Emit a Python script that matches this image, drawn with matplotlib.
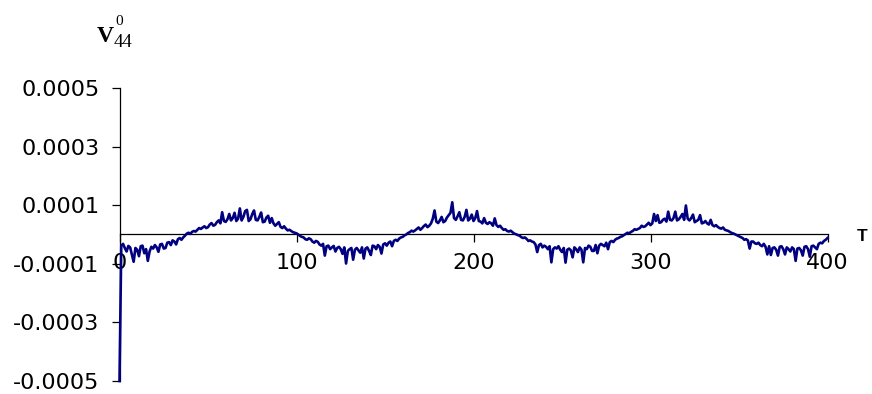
import matplotlib
matplotlib.use("Agg")
import matplotlib.pyplot as plt
import numpy as np

# time axis (step 1)
t_values = list(range(0, 401))
# V_44^0 values in units of 1e-5 (20 per row)
v_values_e5 = [
    -50.0, -3.8, -3.2, -4.6, -5.8, -3.9, -4.4, -6.8, -9.3, -4.6, -5.2, -7.4, -4.0, -3.8, -6.4, -5.0, -9.0, -5.8, -4.2, -4.8,
    -3.6, -4.4, -5.9, -3.4, -3.2, -4.8, -4.6, -2.8, -2.6, -3.6, -2.0, -2.4, -3.4, -1.6, -1.2, -1.8, -1.0, -0.4, 0.3, 0.6,
    0.2, 0.9, 1.2, 1.0, 1.6, 2.2, 1.9, 2.4, 2.8, 2.2, 2.5, 3.4, 3.9, 3.0, 3.3, 4.2, 4.8, 3.8, 7.6, 4.6,
    4.3, 5.2, 7.0, 4.8, 5.6, 7.4, 4.6, 5.4, 8.9, 4.8, 6.0, 8.0, 8.4, 4.6, 5.2, 7.0, 8.2, 5.0, 4.8, 6.0,
    7.5, 4.2, 4.4, 5.8, 6.4, 4.0, 5.6, 3.8, 3.0, 3.6, 4.2, 2.6, 2.2, 2.8, 2.0, 1.4, 1.6, 1.2, 0.8, 0.6,
    0.4, 0.0, -0.5, -0.8, -1.0, -1.6, -1.8, -1.3, -1.6, -2.4, -2.8, -2.2, -2.5, -3.4, -3.8, -3.2, -7.2, -4.0, -3.8, -5.0,
    -4.4, -3.9, -5.8, -4.6, -4.2, -5.0, -6.6, -4.4, -9.9, -5.6, -5.0, -4.6, -8.6, -5.2, -4.6, -5.4, -6.2, -4.4, -8.2, -4.8,
    -4.4, -5.6, -7.0, -3.8, -4.0, -5.0, -3.6, -4.2, -6.5, -3.4, -3.0, -3.8, -2.8, -2.4, -4.0, -2.2, -1.8, -2.2, -1.4, -1.0,
    -0.8, -0.3, 0.0, 0.5, 0.8, 1.3, 1.0, 1.4, 1.9, 2.4, 1.6, 2.2, 2.9, 3.4, 2.5, 3.0, 3.8, 5.4, 8.2, 4.4,
    3.9, 4.8, 6.0, 4.2, 4.6, 5.8, 6.6, 7.4, 11.0, 5.6, 5.0, 6.2, 7.6, 5.0, 4.8, 6.0, 8.4, 4.8, 5.4, 6.8,
    4.6, 5.6, 8.0, 4.6, 4.4, 3.8, 5.6, 4.0, 3.6, 4.2, 3.8, 3.0, 5.5, 3.2, 2.6, 3.0, 2.2, 1.6, 1.8, 1.2,
    1.0, 1.3, 0.8, 0.3, 0.1, -0.2, -0.4, -0.9, -1.2, -1.0, -1.5, -2.2, -2.0, -2.4, -2.6, -3.4, -6.0, -3.6, -3.2, -4.4,
    -3.8, -4.2, -5.0, -4.0, -9.5, -5.0, -4.4, -4.8, -4.0, -5.2, -6.0, -4.6, -9.6, -5.2, -4.8, -5.4, -7.8, -4.4, -5.0, -6.0,
    -4.4, -5.2, -9.5, -4.6, -5.0, -3.8, -4.2, -5.6, -5.6, -3.6, -6.4, -3.8, -3.2, -3.6, -4.0, -2.8, -5.0, -2.6, -2.2, -2.6,
    -1.8, -1.4, -1.2, -0.8, -0.6, -0.2, 0.2, 0.6, 0.4, 0.9, 1.2, 1.8, 1.6, 1.9, 2.2, 3.0, 2.6, 2.8, 3.4, 4.0,
    3.2, 3.8, 7.0, 4.6, 6.6, 4.0, 4.2, 5.0, 5.4, 4.4, 7.8, 5.0, 4.8, 5.6, 7.8, 4.8, 5.2, 6.0, 7.0, 5.0,
    9.9, 5.4, 4.8, 5.6, 6.8, 4.2, 4.6, 5.0, 6.6, 3.8, 4.0, 4.6, 3.8, 3.4, 5.0, 3.2, 2.8, 3.2, 2.6, 2.2,
    2.0, 2.4, 1.6, 1.4, 1.2, 0.8, 0.5, 0.3, 0.0, -0.3, -0.6, -0.9, -1.2, -1.8, -1.6, -2.0, -4.8, -2.4, -2.4, -3.0,
    -3.2, -2.8, -3.6, -4.0, -3.2, -4.2, -6.8, -4.0, -7.0, -4.6, -4.4, -5.2, -7.2, -4.2, -4.0, -5.0, -6.8, -4.4, -5.0, -5.8,
    -4.4, -5.0, -9.0, -4.8, -4.6, -5.4, -7.2, -4.2, -4.0, -5.0, -7.6, -4.0, -3.8, -4.4, -5.0, -3.2, -2.8, -3.0, -2.2, -1.8,
    -1.2,
]
x_ticks = [0, 100, 200, 300, 400]
x_tick_labels = ["0", "100", "200", "300", "400"]
y_ticks = [-0.0005, -0.0003, -0.0001, 0.0001, 0.0003, 0.0005]
y_tick_labels = ["-0.0005", "-0.0003", "-0.0001", "0.0001", "0.0003", "0.0005"]

W, H = 872, 394
fig = plt.figure(figsize=(W / 100, H / 100), dpi=100)
left, right, top, bottom = 119.5, 827.5, 88, 381
ax = fig.add_axes([left / W, 1 - bottom / H, (right - left) / W, (bottom - top) / H])

v = np.array(v_values_e5) * 1e-5
n = min(len(v), len(t_values))
ax.plot(t_values[:n], v[:n], color="#000080", lw=1.9, zorder=3, clip_on=False)

ax.set_xlim(0, 400)
ax.set_ylim(-0.0005, 0.0005)

for s in ["top", "right"]:
    ax.spines[s].set_visible(False)
ax.spines["bottom"].set_position(("data", 0))
ax.spines["bottom"].set_linewidth(0.9)
ax.spines["left"].set_linewidth(0.9)
ax.spines["bottom"].set_zorder(2)
ax.spines["left"].set_zorder(2)

ax.set_xticks(x_ticks)
ax.set_xticklabels(x_tick_labels)
ax.set_yticks(y_ticks)
ax.set_yticklabels(y_tick_labels)

ax.tick_params(axis="x", direction="out", length=5.5, width=0.9, pad=8, labelsize=16)
ax.tick_params(axis="y", direction="out", length=5.5, width=0.9, pad=9, labelsize=16)
for lab in ax.get_xticklabels() + ax.get_yticklabels():
    lab.set_fontfamily("DejaVu Sans")

# axis titles
fig.text(857 / W, 1 - 241 / H, "T", family="Liberation Sans", weight="bold",
         size=12.5, ha="left", va="baseline")
fig.text(97 / W, 1 - 42 / H, "V", family="Liberation Serif", weight="bold",
         size=17, ha="left", va="baseline")
fig.text(115.5 / W, 1 - 25 / H, "0", family="Liberation Serif",
         size=11, ha="left", va="baseline")
fig.text(113.5 / W, 1 - 47 / H, "44", family="Liberation Serif",
         size=13.5, ha="left", va="baseline")

fig.savefig("out.png", dpi=100)
